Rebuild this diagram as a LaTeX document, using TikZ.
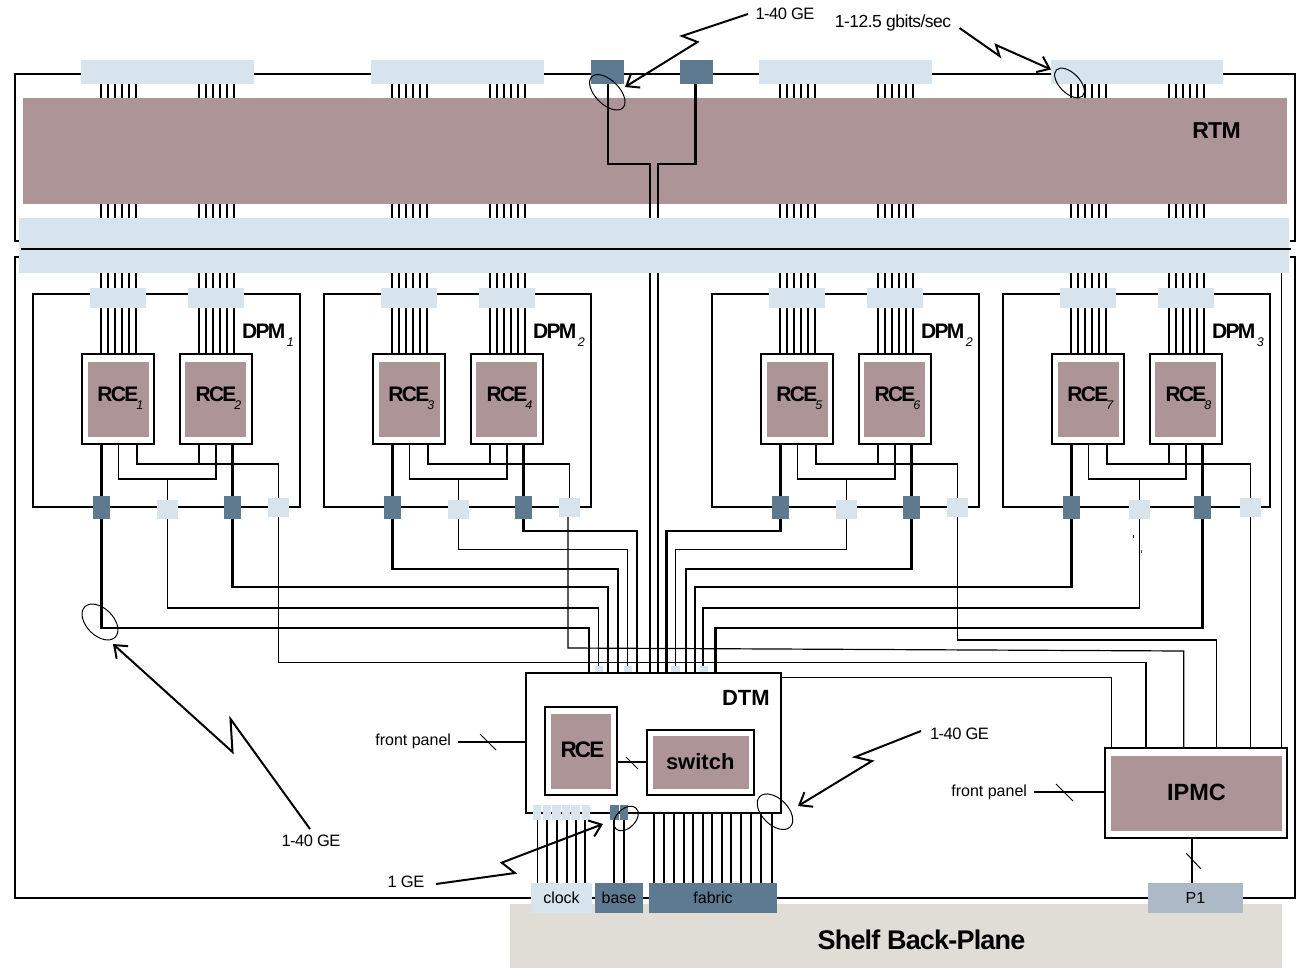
\documentclass[tikz,border=0pt]{standalone}
\usepackage{fontspec}
\setmainfont{Liberation Sans}
\newfontfamily\tightf[LetterSpace=-8]{Liberation Sans}
\newfontfamily\semif[LetterSpace=-3]{Liberation Sans}
\usetikzlibrary{arrows.meta}
\definecolor{mauve}{HTML}{AD9496}
\definecolor{lightb}{HTML}{D7E4EE}
\definecolor{darkb}{HTML}{5D7A90}
\definecolor{beige}{HTML}{E0DDD6}
\definecolor{pone}{HTML}{AEB9C7}
\newcommand\fs[1]{\fontsize{#1bp}{#1bp}\selectfont}
\newcommand\bx[7]{%
  \pgfmathsetmacro\wdt{(#5)-(#3)}\pgfmathsetmacro\hgt{(#6)-(#4)}%
  \node[#2,minimum width=\wdt bp,minimum height=\hgt bp,inner sep=0pt,outer sep=0pt] (#1) at ({((#3)+(#5))/2},{((#4)+(#6))/2}) {#7};}
\tikzset{
  frame/.style={draw=black,line width=2.2pt,fill=white},
  frameopen/.style={draw=black,line width=2.2pt},
  mauvefill/.style={fill=mauve},
  lightfill/.style={fill=lightb},
  darkfill/.style={fill=darkb},
  bus/.style={draw=black,line width=2.4pt},
  sig/.style={draw=black,line width=1.2pt},
  tickl/.style={draw=black,line width=1.8pt},
  slash/.style={draw=black,line width=1pt},
  bolt/.style={draw=black,line width=2pt,-{Straight Barb[length=11bp,width=17bp,line width=2pt]}},
  ringm/.style={draw=black,line width=1pt},
  lab/.style={inner sep=0pt,outer sep=0pt,text=black},
  small/.style={lab,font=\semif\fs{16.5}},
  head/.style={lab,anchor=base west,font=\tightf\bfseries\fs{21}},
}
\begin{document}
\begin{tikzpicture}[x=1bp,y=-1bp]
\useasboundingbox (0,0) rectangle (1297,968);

% outer frames
\draw[frameopen] (19,241) -- (15.3,241) -- (15.3,74) -- (1295,74) -- (1295,241) -- (1290,241);
\draw[frameopen] (19,257) -- (15.3,257) -- (15.3,898) -- (1295,898) -- (1295,257) -- (1290,257);
\coordinate (ipmcGray) at (1281.5,748);

% bars of RTM
\bx{rtm}{mauvefill}{23}{98}{1287}{204}{}
\bx{top1}{lightfill}{81}{60}{254}{84}{}
\bx{top2}{lightfill}{371}{60}{544}{84}{}
\bx{top3}{lightfill}{759}{60}{932}{84}{}
\bx{top4}{lightfill}{1051}{60}{1223}{84}{}
\bx{rtmA}{darkfill}{591}{60}{624}{84}{}
\bx{rtmB}{darkfill}{680}{60}{713}{84}{}

% DTM position (needed by connectors, drawn later on top)
\path (526,673) coordinate (dtmNW) (781,813) coordinate (dtmSE);

% centre pair through the bar
\coordinate (kneeA) at (649.7,164);
\coordinate (kneeB) at (657.7,164);
\draw[bus] (rtmA.south -| 608,0) |- (kneeA) -- (kneeA |- dtmNW);
\draw[bus] (rtmB.south -| 695.5,0) |- (kneeB) -- (kneeB |- dtmNW);

% back-plane bar
\bx{bp}{lightfill}{19}{218}{1289}{273}{}
\coordinate (bpL) at (21,248.7);
\coordinate (bpR) at (1290.5,248.7);
\draw[draw=black,line width=2.2pt] (bpL) -- (bpR);

% DPM groups
\foreach \n/\off/\lab/\a/\b/\ex in {1/0/1/1/2/0, 2/291/2/3/4/0, 3/679/2/5/6/0, 4/970/3/7/8/2}{
  \bx{dpm\n}{frame}{33+\off}{294}{300+\off}{507}{}
  \bx{rce\n a}{frame}{82+\off}{354}{154+\off}{444}{}
  \bx{rce\n b}{frame}{180+\off}{354}{252+\off}{444}{}
  \bx{rin\n a}{mauvefill}{88+\off}{362}{149+\off}{437}{}
  \bx{rin\n b}{mauvefill}{185+\off}{362}{246+\off}{437}{}
  \bx{con\n a}{lightfill}{90+\off}{288}{146+\off}{308}{}
  \bx{con\n b}{lightfill}{188+\off}{288}{244+\off}{308}{}
  \foreach \base/\s in {101/a,199/b}{
    \foreach \k in {0,...,5}{
      \pgfmathsetmacro\xx{\base+\off+7*\k}
      \draw[tickl] (\xx,0 |- top\n.south) -- (\xx,0 |- rtm.north);
      \draw[tickl] (\xx,0 |- rtm.south) -- (\xx,0 |- bp.north);
      \draw[tickl] (\xx,0 |- bp.south) -- (\xx,0 |- con\n\s.north);
      \draw[tickl] (\xx,0 |- con\n\s.south) -- (\xx,0 |- rce\n\s.north);
    }
  }
  % squares
  \bx{dk\n a}{darkfill}{93+\off}{496}{110+\off}{519}{}
  \bx{lt\n a}{lightfill}{157+\off+\ex}{500}{178+\off+\ex}{519}{}
  \bx{dk\n b}{darkfill}{224+\off}{496}{241+\off}{519}{}
  \bx{lt\n b}{lightfill}{268+\off+\ex}{498}{289+\off+\ex}{517}{}
  % links under the RCEs
  \draw[bus] (rce\n a.south -| dk\n a.north) -- (dk\n a.north);
  \draw[bus] (rce\n b.south -| dk\n b.north) -- (dk\n b.north);
  \pgfmathsetmacro\xa{118.3+\off}\pgfmathsetmacro\xb{216+\off}
  \pgfmathsetmacro\xc{137+\off}\pgfmathsetmacro\xd{199+\off}
  \draw[sig] (\xa,0 |- rce\n a.south) |- (\xb,479) -- (\xb,0 |- rce\n b.south);
  \draw[sig] (lt\n a.north) -- (lt\n a.north |- 0,479);
  \draw[sig] (\xc,0 |- rce\n a.south) |- (lt\n b.north |- 0,464) -- (lt\n b.north);
  \draw[sig] (\xd,0 |- rce\n b.south) -- (\xd,464);
  % labels
  \pgfmathsetmacro\xe{97.3+\off}\pgfmathsetmacro\xf{195.5+\off}
  \pgfmathsetmacro\xg{242+\off}
  \node[head] (tra\n) at (\xe,401.7) {RCE\kern-2bp\raisebox{-8bp}{\semif\mdseries\itshape\fs{12.5}\a}};
  \node[head] (trb\n) at (\xf,401.7) {RCE\kern-2bp\raisebox{-8bp}{\semif\mdseries\itshape\fs{12.5}\b}};
  \node[head] (tdp\n) at (\xg,338.5) {DPM\kern1.5bp\raisebox{-8bp}{\semif\mdseries\itshape\fs{12.5}\lab}};
}

% DTM port corners
\coordinate (k1) at (588.7,628);
\coordinate (k2) at (598.7,608);
\coordinate (k3) at (608,586.7);
\coordinate (k4) at (618,568.7);
\coordinate (k5) at (627.7,549.7);
\coordinate (k6) at (637,531);
\coordinate (k7) at (666.3,531);
\coordinate (k8) at (675.7,549.7);
\coordinate (k9) at (685.7,568.7);
\coordinate (k10) at (695,586.7);
\coordinate (k11) at (703,608);
\coordinate (k12) at (715.3,628);
\draw[bus] (dk1a.south) |- (k1) -- (k1 |- dtmNW);
\draw[sig] (lt1a.south) |- (k2) -- (k2 |- dtmNW);
\draw[bus] (dk1b.south) |- (k3) -- (k3 |- dtmNW);
\draw[bus] (dk2a.south) |- (k4) -- (k4 |- dtmNW);
\draw[sig] (lt2a.south) |- (k5) -- (k5 |- dtmNW);
\draw[bus] (dk2b.south) |- (k6) -- (k6 |- dtmNW);
\draw[bus] (dk3a.south) |- (k7) -- (k7 |- dtmNW);
\draw[sig] (lt3a.south) |- (k8) -- (k8 |- dtmNW);
\draw[bus] (dk3b.south) |- (k9) -- (k9 |- dtmNW);
\draw[bus] (dk4a.south) |- (k10) -- (k10 |- dtmNW);
\draw[sig] (lt4a.south) |- (k11) -- (k11 |- dtmNW);
\draw[bus] (dk4b.south) |- (k12) -- (k12 |- dtmNW);

% IPMC
\bx{ipmc}{frame}{1105}{748}{1287}{838}{}
\bx{ipmi}{mauvefill}{1111}{756}{1282}{831}{\raisebox{1.5bp}{\bfseries\fs{23.5}IPMC}}

% management lines to IPMC
\coordinate (m1) at (1216.7,640);
\coordinate (m2) at (1183.7,651);
\coordinate (m3) at (1146,662.7);
\coordinate (m4) at (1111.7,677.7);
\draw[sig] (lt3b.south) |- (m1) -- (m1 |- ipmc.north);
\draw[sig] (568,0 |- lt2b.south) -- (568,648) -- (m2) -- (m2 |- ipmc.north);
\draw[sig] (lt1b.south) |- (m3) -- (m3 |- ipmc.north);
\draw[sig] (lt4b.south) -- (lt4b.south |- ipmc.north);
\draw[sig] (1281.5,273 |- bp.south) -- (ipmcGray);
\draw[sig] (781,677.7) -- (m4) -- (m4 |- ipmc.north);
\fill[black] (1133,534.5) rectangle (1134,537.5);
\fill[black!70] (1141,550) rectangle (1142,553);

% DTM
\bx{dtm}{frame}{526}{673}{781}{813}{}
\node[head,font=\bfseries\fs{22}] (tdtm) at (722,705) {DTM};
\foreach \m/\xl/\xr in {a/595/603,b/624/632,c/671/680,d/700/708}{
  \bx{tp\m}{lightfill}{\xl}{666}{\xr}{672}{}
}
\bx{drce}{frame}{545}{707}{617}{795.3}{}
\bx{drci}{mauvefill}{551}{714}{611}{789}{}
\node[head,font=\tightf\bfseries\fs{22.5}] (tdrce) at (560.5,757.3) {RCE};
\bx{dsw}{frame}{647}{730}{754}{795}{}
\bx{dswi}{mauvefill}{653}{736}{749}{789}{}
\node[head,font=\bfseries\fs{22}] (tsw) at (666,769) {switch};
\draw[sig] (drce.east |- 0,762) -- (dsw.west |- 0,762);
\coordinate (s1a) at (626,757); \coordinate (s1b) at (638,769);
\draw[slash] (s1a) -- (s1b);

% back plane
\bx{shelf}{fill=beige}{510}{904}{1282}{968}{}
\node[lab,font=\semif\bfseries\fs{27}] (tshelf) at (921.5,940) {Shelf Back-Plane};
\node[lab,font=\semif\bfseries\fs{23}] (trtm) at (1216.5,131) {RTM};

% bottom of DTM
\bx{clock}{lightfill}{531}{883}{592}{913}{\fs{16}clock}
\bx{base}{darkfill}{595}{883}{643}{913}{\fs{16}base}
\bx{fabric}{darkfill}{649}{883}{777}{913}{\fs{16}fabric}
\bx{pone}{fill=pone}{1148}{883}{1243}{913}{\fs{16}P1}
\foreach \q/\xl/\xr in {1/533/541,2/543/551,3/552/560.5,4/562/570,5/571/580,6/582/590}{
  \bx{cs\q}{lightfill}{\xl}{805}{\xr}{820}{}
}
\foreach \q/\xx in {1/537.7,2/547,3/557,4/567,5/576,6/585}{
  \draw[sig] (\xx,0 |- cs\q.south) -- (\xx,0 |- clock.north);
}
\bx{bsa}{darkfill}{610}{805}{619}{820}{}
\bx{bsb}{darkfill}{620}{805}{628}{820}{}
\draw[sig] (614,0 |- bsa.south) -- (614,0 |- base.north);
\draw[sig] (624,0 |- bsb.south) -- (624,0 |- base.north);
\foreach \xx in {654.3,664,674,684,693,703,712,722,731,741,751,761,772}{
  \draw[tickl] (\xx,0 |- dtm.south) -- (\xx,0 |- fabric.north);
}

% front panels and P1 link
\node[small,anchor=east,font=\fs{16}] (fp1) at (451,741) {front panel};
\node[small,anchor=east,font=\fs{16}] (fp2) at (1027,792) {front panel};
\coordinate (fp1e) at (458,742);
\coordinate (fp2e) at (1034,792);
\draw[sig] (fp1e) -- (fp1e -| dtm.west);
\draw[sig] (fp2e) -- (fp2e -| ipmc.west);
\draw[slash] (480,734) -- (496,750);
\draw[slash] (1056,784) -- (1073,801);
\draw[sig] (1192,0 |- ipmc.south) -- (1192,0 |- pone.north);
\draw[slash] (1186,853) -- (1201,869);

% rings
\draw[ringm] (607.3,92.3) ellipse [x radius=22bp,y radius=12bp,rotate=-45];
\draw[ringm] (1069.5,83) ellipse [x radius=18.5bp,y radius=10bp,rotate=-45];
\draw[ringm] (100,622) ellipse [x radius=21.5bp,y radius=13.5bp,rotate=-45];
\draw[ringm] (775,811.7) ellipse [x radius=21.5bp,y radius=13bp,rotate=-45];
\draw[ringm] (626,818.5) ellipse [x radius=14.5bp,y radius=9.5bp,rotate=45];

% labels and bolts
\node[small] (lbA) at (785,14) {1-40 GE};
\node[small,font=\semif\fs{17.5}] (lbB) at (893,23) {1-12.5 gbits/sec};
\node[small] (lbC) at (311,841) {1-40 GE};
\node[small] (lbD) at (959.5,734) {1-40 GE};
\node[small] (lbE) at (406,882) {1 GE};
\coordinate (a0) at (748,14);\coordinate (a1) at (682,36);\coordinate (a2) at (697.5,42);\coordinate (a3) at (625,87);
\coordinate (b0) at (959.5,28);\coordinate (b1) at (999.5,56);\coordinate (b2) at (996,45);\coordinate (b3) at (1051,69.5);
\coordinate (c0) at (310,829);\coordinate (c1) at (230.5,719);\coordinate (c2) at (232.5,752);\coordinate (c3) at (113,644);
\coordinate (d0) at (921,731);\coordinate (d1) at (855,757);\coordinate (d2) at (872,761);\coordinate (d3) at (798,806);
\coordinate (e0) at (436,884);\coordinate (e1) at (515,873);\coordinate (e2) at (501.7,862.7);\coordinate (e3) at (603,824);
\draw[bolt] (a0) -- (a1) -- (a2) -- (a3);
\draw[bolt] (b0) -- (b1) -- (b2) -- (b3);
\draw[bolt] (c0) -- (c1) -- (c2) -- (c3);
\draw[bolt] (d0) -- (d1) -- (d2) -- (d3);
\draw[bolt] (e0) -- (e1) -- (e2) -- (e3);
\end{tikzpicture}
\end{document}
